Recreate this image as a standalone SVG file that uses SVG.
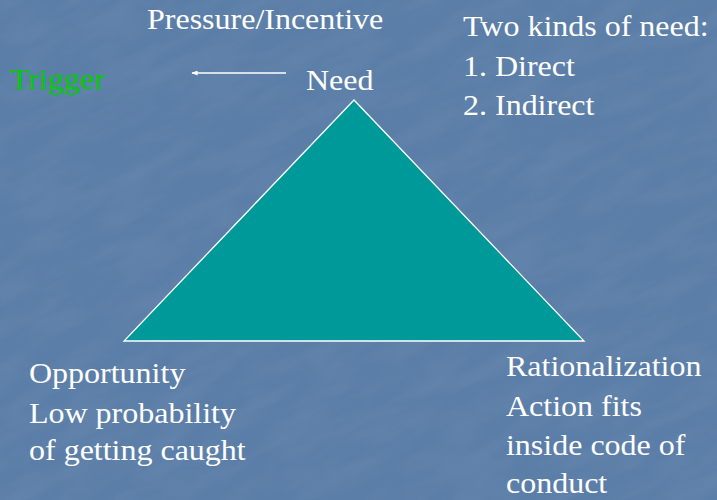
<svg xmlns="http://www.w3.org/2000/svg" width="717" height="500" viewBox="0 0 717 500">
  <defs>
    <style>
      text { font-family: "Liberation Serif", Tinos, "Times New Roman", Times, serif; font-size: 32px; fill: #ffffff; }
      .trig { fill: #00cc00; }
    </style>
    <!-- soft marble streaks for the slide background -->
    <filter id="marble" x="0" y="0" width="100%" height="100%">
      <feTurbulence type="fractalNoise" baseFrequency="0.015 0.05" numOctaves="4" seed="7" result="n"/>
      <feColorMatrix in="n" type="matrix" values="0 0 0 0 1  0 0 0 0 1  0 0 0 0 1  0 0 0 -1.6 1.05" result="w"/>
      <feComposite in="w" in2="SourceGraphic" operator="in"/>
    </filter>
    <marker id="head" viewBox="0 0 10 8" refX="9" refY="4" markerWidth="7" markerHeight="5" orient="auto" markerUnits="userSpaceOnUse">
      <path d="M0,0 L10,4 L0,8 Z" fill="#ffffff"/>
    </marker>
  </defs>

  <!-- background -->
  <rect width="717" height="500" fill="#5b7ea8"/>
  <rect x="-200" y="-200" width="1117" height="900" fill="#ffffff" opacity="0.05" filter="url(#marble)" transform="rotate(-25 358 250)"/>

  <!-- fraud triangle -->
  <g id="triangle">
    <polygon points="354,100 124,341 584,341" fill="#009999" stroke="#ffffff" stroke-width="1.3"/>
  </g>

  <!-- connectors -->
  <g id="connectors">
    <line x1="286" y1="73" x2="192" y2="73" stroke="#ffffff" stroke-width="1.3" marker-end="url(#head)"/>
  </g>

  <g transform="scale(1 0.926)" font-family="'Liberation Serif', serif">
    <g id="pressure">
      <text x="147" y="31.5">Pressure/Incentive</text>
    </g>
    <g id="trigger">
      <text class="trig" x="10" y="96">Trigger</text>
    </g>
    <g id="need">
      <text x="306" y="97">Need</text>
    </g>
    <g id="need-kinds">
      <text x="463" y="39">Two kinds of need:</text>
      <text x="463" y="82">1. Direct</text>
      <text x="463" y="124.5">2. Indirect</text>
    </g>
    <g id="opportunity">
      <text x="29" y="413.5">Opportunity</text>
      <text x="29" y="456.5">Low probability</text>
      <text x="29" y="497">of getting caught</text>
    </g>
    <g id="rationalization">
      <text x="506" y="406">Rationalization</text>
      <text x="506" y="449">Action fits</text>
      <text x="506" y="491.5">inside code of</text>
      <text x="506" y="532.5">conduct</text>
    </g>
  </g>
</svg>
